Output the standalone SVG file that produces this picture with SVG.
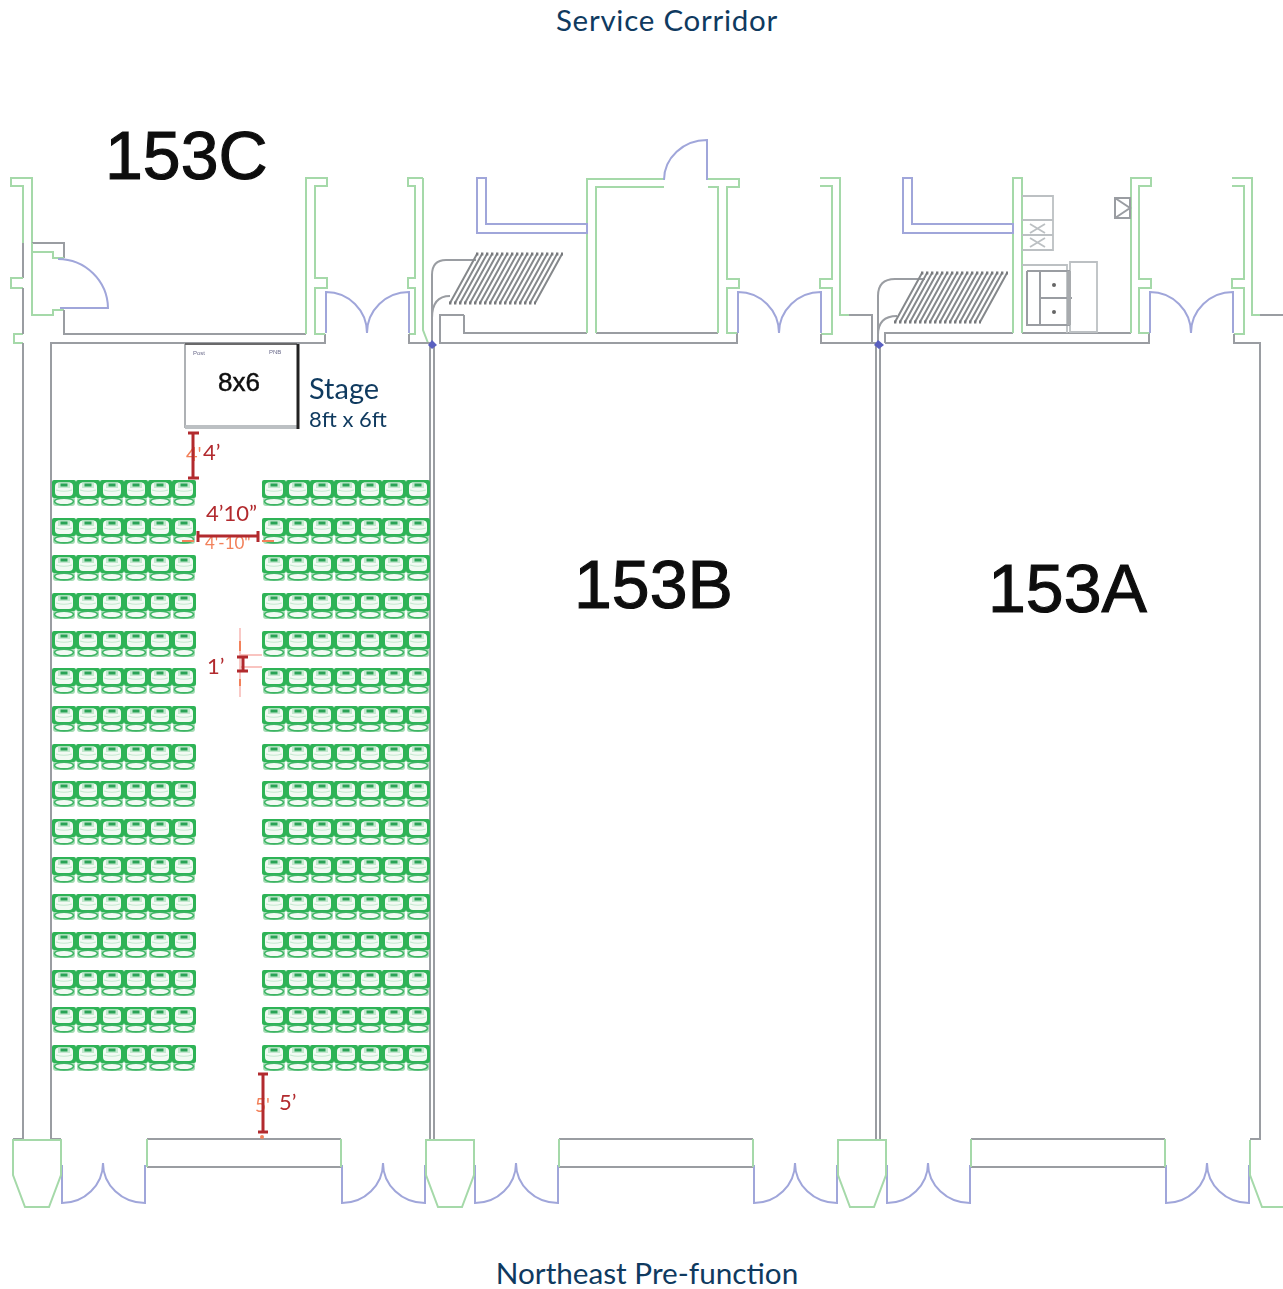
<svg xmlns="http://www.w3.org/2000/svg" xmlns:xlink="http://www.w3.org/1999/xlink" width="1283" height="1289" viewBox="0 0 1283 1289">
<style>
text{font-family:"Lato","Liberation Sans",sans-serif}
.g,.b,.k,.kl,.r,.p{fill:none;stroke-linejoin:miter}
.g{stroke:#a5d9a9;stroke-width:2}
.b{stroke:#a0a6da;stroke-width:2}
.k{stroke:#9a9da2;stroke-width:2}
.kl{stroke:#bcc0c3;stroke-width:1.8}
.r{stroke:#b22a2e;stroke-width:3}
.p{stroke:#f9c4c0;stroke-width:1.8}
.navy{fill:#0f3a5f}
.room{font-family:"Liberation Sans",sans-serif;font-size:68px;fill:#111;stroke:#111;stroke-width:1.1}
.dim{fill:#b22a2e;font-size:22px}
.ghost{fill:#f2815a}
</style>
<defs>
<filter id="soft" x="-2%" y="-2%" width="104%" height="104%"><feGaussianBlur stdDeviation="0.5"/></filter>
<g id="seat">
<rect x="1" y="17" width="22" height="9" rx="3" fill="#a4dcb4"/>
<rect x="0" y="0" width="24" height="18" rx="2" fill="#2db357"/>
<rect x="3" y="2.5" width="18" height="13.5" rx="4" fill="#f2faf3"/>
<rect x="6" y="2.5" width="12" height="5.5" fill="#c4e8cf"/>
<rect x="8.5" y="3.5" width="7" height="3" fill="#2aa356"/>
<path d="M4 10Q12 12.5 20 10" fill="none" stroke="#c4e8cf" stroke-width="1.2"/>
<ellipse cx="12" cy="21.5" rx="9.5" ry="3.4" fill="#f2faf3" stroke="#3cb464" stroke-width="1.6"/>
</g>
<g id="row6"><use href="#seat" x="0"/><use href="#seat" x="24"/><use href="#seat" x="48"/><use href="#seat" x="72"/><use href="#seat" x="96"/><use href="#seat" x="120"/></g>
<g id="row7"><use href="#row6"/><use href="#seat" x="144"/></g>
<g id="radiator">
<path fill="none" stroke="#85888b" stroke-width="2" d="M0 0l-27 49M5 0l-27 49M10 0l-27 49M15 0l-27 49M20 0l-27 49M25 0l-27 49M30 0l-27 49M35 0l-27 49M40 0l-27 49M45 0l-27 49M50 0l-27 49M55 0l-27 49M60 0l-27 49M65 0l-27 49M70 0l-27 49M75 0l-27 49M80 0l-27 49M85 0l-27 49"/>
<path fill="none" stroke="#77797c" stroke-width="3" stroke-dasharray="2.4 2.6" d="M-1 0H86M-28 49H59"/>
</g>
<g id="doorUp"><path class="b" d="M0 41V0A41 41 0 0 1 41 41M83 41V0A42 41 0 0 0 41 41"/></g>
<g id="doorDown"><path class="b" d="M0 0V38A41 40 0 0 0 41 -2M83 0V38A42 40 0 0 1 41 -2"/></g>
<path id="taper" class="g" d="M0 0H48V35L36 67H12L0 35Z"/>
<path id="band" class="k" d="M0 0H194M0 28H194"/>
</defs>

<g id="titles">
<text class="navy" x="667" y="31" font-size="29.5" text-anchor="middle" letter-spacing="0.75">Service Corridor</text>
<text class="navy" x="647" y="1284" font-size="29.7" text-anchor="middle">Northeast Pre-function</text>
<g filter="url(#soft)">
<text class="room" x="105" y="179">153C</text>
<text class="room" x="574" y="608">153B</text>
<text class="room" x="988" y="612">153A</text>
</g>
</g>

<g id="walls" filter="url(#soft)">
<path class="g" d="M32 243V178H11V186H23V243"/>
<path class="k" d="M23 243V278M32 243H64V258"/>
<path class="g" d="M23 278H11V288H23M23 334H14V343H23M32 243V315H53V310H64M32 252H53V258H64"/>
<path class="k" d="M23 288V334M23 343V1139H13M51 1139V343H325V334M64 310V334H306M51 1139H61"/>
<path class="g" d="M306 334V178H327V186H315V278H327V288H315V334H325"/>
<path class="g" d="M423 178H408V186H415V278H408V288H415V334H409M423 178V330L428 343"/>
<path class="k" d="M409 334V343H430M430 343V1139M434 343V1139"/>
<path class="k" d="M464 315H440V343H737V333M464 315V333H587M596 333H718"/>
<path class="g" d="M587 333V179H664M596 333V187H664M708 179H739V187H727V279H739V288H727V333H737M708 187H718V333"/>
<path class="g" d="M820 178H840V315H849M820 186H832V279H820V288H832V334H821"/>
<path class="k" d="M849 315H872V343M821 334V343H876M876 343V1139M880 343V1139M885 343V333H1013M1022 333H1131M885 343H1149V333"/>
<path class="g" d="M1013 333V178H1022V333M1131 333V178H1151V186H1139V279H1151V288H1139V333H1149"/>
<path class="g" d="M1232 178H1252V315H1260M1232 186H1244V279H1232V288H1244V334H1234"/>
<path class="k" d="M1260 315H1283M1234 334V343H1260V1139H1250"/>
<path class="b" d="M477 178H486V224H587V233H477ZM903 178H912V224H1013V233H903Z"/>
<path class="b" d="M664 180A43 40 0 0 1 707 140V180"/>
<path class="k" d="M432 343V275Q432 260 446 260H476M432 318Q432 296 450 296"/>
<path class="k" d="M878 343V296Q878 279 895 279H925M878 335Q878 316 897 316"/>
<path fill="#5a60c0" d="M428 345L432 340L437 345L432 349ZM874 345L878 340L884 345L879 349Z"/>
<use href="#radiator" x="477" y="254"/>
<use href="#radiator" x="922" y="273"/>
</g>

<g id="doors" filter="url(#soft)">
<use href="#doorUp" x="326" y="292"/>
<use href="#doorUp" x="738" y="292"/>
<use href="#doorUp" x="1150" y="292"/>
<path class="b" d="M58 259A50 50 0 0 1 108 308H60"/>
<use href="#doorDown" x="62" y="1165"/>
<use href="#doorDown" x="342" y="1165"/>
<use href="#doorDown" x="475" y="1165"/>
<use href="#doorDown" x="754" y="1165"/>
<use href="#doorDown" x="887" y="1165"/>
<use href="#doorDown" x="1166" y="1165"/>
</g>

<g id="frontage" filter="url(#soft)">
<use href="#taper" x="13" y="1140"/>
<use href="#taper" x="426" y="1140"/>
<use href="#taper" x="838" y="1140"/>
<path class="g" d="M1250 1140V1175L1262 1207H1283"/>
<use href="#band" x="147" y="1139"/>
<use href="#band" x="559" y="1139"/>
<use href="#band" x="971" y="1139"/>
<path class="g" d="M147 1139V1167M341 1139V1167M559 1139V1167M753 1139V1167M971 1139V1167M1165 1139V1167"/>
</g>

<g id="kitchen" filter="url(#soft)">
<path class="kl" stroke-width="2.6" d="M1022 196H1053V250H1022M1022 220H1053M1022 235H1053"/>
<path class="kl" d="M1030 224L1045 233M1045 224L1030 233M1030 238L1045 247M1045 238L1030 247"/>
<path class="k" d="M1115 198H1130V218H1115ZM1115 198L1130 208L1115 218"/>
<path class="k" stroke-width="3" d="M1130 197V219"/>
<path class="kl" d="M1022 265H1067V333M1070 262H1097V332H1070Z"/>
<path class="k" d="M1027 271H1070M1027 271V325H1070M1040 271V325M1040 298H1072"/>
<path stroke="#a8abae" stroke-width="4" d="M1069 271V325" fill="none"/>
<circle cx="1054" cy="285" r="2" fill="#666"/>
<circle cx="1054" cy="312" r="2" fill="#666"/>
</g>

<g id="stage">
<g filter="url(#soft)">
<path fill="#fff" stroke="#a6a9ad" stroke-width="1.8" d="M185 428V344H297"/>
<path fill="none" stroke="#555" stroke-width="1.5" d="M185 344H297"/>
<path fill="none" stroke="#bcc0c3" stroke-width="4" d="M185 427H298"/>
<path fill="none" stroke="#222" stroke-width="3" d="M298 344V429"/>
<text x="193" y="355" font-size="6" fill="#6a6a8a" style="font-family:'Liberation Sans',sans-serif">Post</text>
<text x="269" y="354" font-size="6" fill="#6a6a8a" style="font-family:'Liberation Sans',sans-serif">PNB</text>
<text x="239" y="391" font-size="26" fill="#111" stroke="#111" stroke-width=".5" text-anchor="middle" style="font-family:'Liberation Sans',sans-serif">8x6</text>
</g>
<text class="navy" x="309" y="399" font-size="29">Stage</text>
<text class="navy" x="309" y="427" font-size="22">8ft x 6ft</text>
</g>

<g id="seating" filter="url(#soft)">
<use href="#row6" x="52" y="480"/><use href="#row7" x="262" y="480"/>
<use href="#row6" x="52" y="518"/><use href="#row7" x="262" y="518"/>
<use href="#row6" x="52" y="555"/><use href="#row7" x="262" y="555"/>
<use href="#row6" x="52" y="593"/><use href="#row7" x="262" y="593"/>
<use href="#row6" x="52" y="631"/><use href="#row7" x="262" y="631"/>
<use href="#row6" x="52" y="668"/><use href="#row7" x="262" y="668"/>
<use href="#row6" x="52" y="706"/><use href="#row7" x="262" y="706"/>
<use href="#row6" x="52" y="744"/><use href="#row7" x="262" y="744"/>
<use href="#row6" x="52" y="781"/><use href="#row7" x="262" y="781"/>
<use href="#row6" x="52" y="819"/><use href="#row7" x="262" y="819"/>
<use href="#row6" x="52" y="857"/><use href="#row7" x="262" y="857"/>
<use href="#row6" x="52" y="894"/><use href="#row7" x="262" y="894"/>
<use href="#row6" x="52" y="932"/><use href="#row7" x="262" y="932"/>
<use href="#row6" x="52" y="970"/><use href="#row7" x="262" y="970"/>
<use href="#row6" x="52" y="1007"/><use href="#row7" x="262" y="1007"/>
<use href="#row6" x="52" y="1045"/><use href="#row7" x="262" y="1045"/>
</g>

<g id="dimensions">
<g filter="url(#soft)">
<path class="p" d="M240 628V697M240 655H262M240 667H262"/>
<path fill="none" stroke="#f2815a" stroke-width="2" d="M240 641V651M240 679V686M182 541H194M262 541H274"/>
<text class="ghost" x="186" y="461" font-size="20">4'</text>
<text class="ghost" x="205" y="549" font-size="17">4'-10"</text>
<text class="ghost" x="255" y="1112" font-size="19">5'</text>
<circle cx="262" cy="1137" r="2" fill="#f2815a"/>
</g>
<path class="r" d="M193 433V478M188 433H199M188 478H199"/>
<path class="r" d="M198 536H258M198 531V542M258 531V542"/>
<path class="r" d="M243 657V671M237 657H248M237 671H248"/>
<path class="r" d="M263 1074V1132M258 1074H268M258 1132H268"/>
<text class="dim" x="203" y="460">4’</text>
<text class="dim" x="206" y="521">4’10”</text>
<text class="dim" x="207" y="674">1’</text>
<text class="dim" x="279" y="1110">5’</text>
</g>
</svg>
